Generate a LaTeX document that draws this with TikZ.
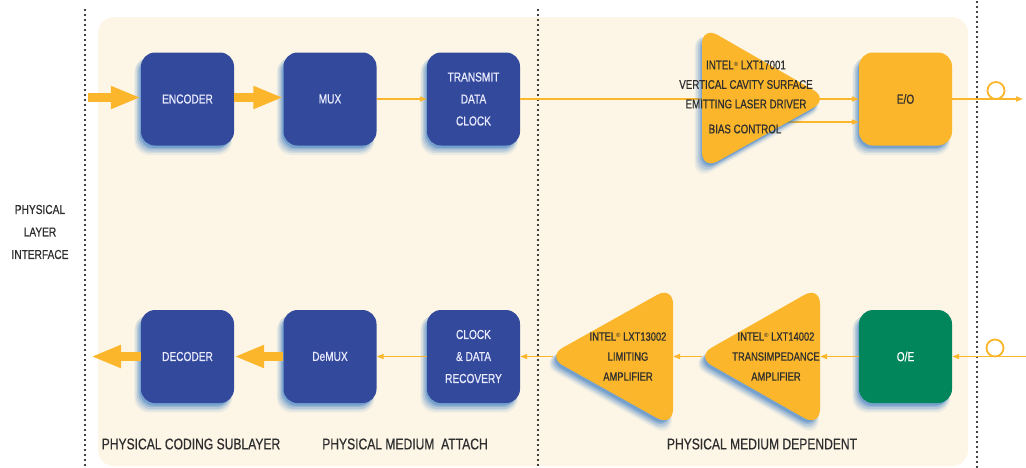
\documentclass[tikz,border=0pt]{standalone}
\usepackage{fontspec}
\setmainfont{Liberation Sans}[FakeStretch=0.78,FakeBold=0.6]
\newfontfamily\regfont{Liberation Sans}
\usetikzlibrary{arrows.meta,shadows}
\definecolor{boxblue}{HTML}{334A9C}
\definecolor{amber}{HTML}{FBB62B}
\definecolor{boxgreen}{HTML}{00865A}
\definecolor{cream}{HTML}{FDF6E6}
\definecolor{shblue}{HTML}{2A72C0}
\definecolor{txtgray}{HTML}{2E2E2E}
\newcommand{\regm}{{\regfont\fontsize{6}{6}\selectfont\raisebox{0.9ex}{®}}}
\tikzset{
  shadowed/.style={
    general shadow={fill=shblue,opacity=0.08,shadow xshift=-4pt,shadow yshift=-7pt,shadow scale=1.05},
    general shadow={fill=shblue,opacity=0.12,shadow xshift=-4pt,shadow yshift=-6pt,shadow scale=1.03},
    general shadow={fill=shblue,opacity=0.16,shadow xshift=-3.5pt,shadow yshift=-5.5pt,shadow scale=1.01},
    general shadow={fill=shblue,opacity=0.22,shadow xshift=-3pt,shadow yshift=-4.5pt,shadow scale=0.99},
    general shadow={fill=shblue,opacity=0.3,shadow xshift=-2pt,shadow yshift=-3.5pt,shadow scale=0.98}},
  blockbox/.style={shadowed,rounded corners=14pt,minimum width=93pt,minimum height=93pt,
    inner sep=0pt,text=white,align=center,font=\fontsize{13}{22}\selectfont},
  bluebox/.style={blockbox,fill=boxblue,text=white!92!blue},
  ambox/.style={blockbox,fill=amber,text=txtgray},
  grbox/.style={blockbox,fill=boxgreen},
  ampshape/.style={shadowed,fill=amber,rounded corners=18pt},
  amptext/.style={text=txtgray,align=center,font=\fontsize{12}{20}\selectfont,inner sep=0pt},
  lbl/.style={text=txtgray,font=\fontsize{15.5}{18}\selectfont,inner sep=0pt},
  thinarrow/.style={draw=amber,line width=1.6pt,-{Triangle[length=7pt,width=5pt]}},
  thickarrow/.style={draw=amber,line width=9pt,-{Triangle[length=30pt,width=21pt]}},
  dotline/.style={line width=2.3pt,dash pattern=on 0pt off 5pt,line cap=round,black},
}
\begin{document}
\begin{tikzpicture}[x=1pt,y=-1pt]
\useasboundingbox (0,0) rectangle (1026,467);
% panel
\fill[cream] (98,17) [rounded corners=16pt] rectangle (968,466);
% dotted boundaries
\draw[dotline] (85,10) -- (85,467);
\draw[dotline] (538,10) -- (538,467);
\draw[dotline] (977,2) -- (977,467);
% side label
\node[text=txtgray,align=center,font=\fontsize{13}{22.5}\selectfont,inner sep=0pt] (pli) at (40,232) {PHYSICAL\\LAYER\\INTERFACE};
% top row boxes
\node[bluebox] (enc) at (187.5,99) {ENCODER};
\node[bluebox] (mux) at (330,99) {MUX};
\node[bluebox] (tdc) at (473.5,99) {TRANSMIT\\DATA\\CLOCK};
\node[ambox] (eo) at (905.5,99) {E/O};
% bottom row boxes
\node[bluebox] (dec) at (187.5,356.5) {DECODER};
\node[bluebox] (demux) at (330,356.5) {DeMUX};
\node[bluebox] (cdr) at (473.5,356.5) {CLOCK\\\& DATA\\RECOVERY};
\node[grbox] (oe) at (905.5,356.5) {O/E};
% coordinates
\coordinate (inL) at (88,97.5);
\coordinate (outL) at (91,356.5);
\coordinate (ldtip) at (822,99);
\coordinate (ldbias) at (778,122);
\coordinate (tiatip) at (702,356.5);
\coordinate (tiaright) at (820,356.5);
\coordinate (latip) at (553,356.5);
\coordinate (laright) at (673,356.5);
\coordinate (fout) at (1023,99);
\coordinate (fin) at (1026,356.5);
% connectors top
\draw[thickarrow] (inL) -- (enc.west |- inL);
\draw[thickarrow] (enc.east |- inL) -- (mux.west |- inL);
\draw[thinarrow] (mux.east) -- (tdc.west);
\draw[thinarrow] (tdc.east) -- (eo.west);
\draw[thinarrow] (ldbias) -- (eo.west |- ldbias);
\draw[thinarrow] (eo.east) -- (fout);
\draw[amber,line width=1.8pt] (996,90.5) circle (8.5);
% laser driver
\path[ampshape] (702,26) -- (829,99) -- (702,170) -- cycle;
\node[amptext,font=\fontsize{12.5}{19.5}\selectfont] (ld) at (746,84.5) {INTEL\regm\ LXT17001\\VERTICAL CAVITY SURFACE\\EMITTING LASER DRIVER};
\node[amptext,font=\fontsize{12.5}{19.5}\selectfont] (bias) at (745,129) {BIAS CONTROL};
% connectors bottom
\draw[thinarrow] (fin) -- (oe.east);
\draw[amber,line width=1.8pt] (995,348) circle (8.5);
\draw[thinarrow] (oe.west) -- (tiaright);
\draw[thinarrow] (tiatip) -- (laright);
\draw[thinarrow] (latip) -- (cdr.east);
\draw[thinarrow] (cdr.west) -- (demux.east);
\draw[thickarrow] (demux.west) -- (dec.east);
\draw[thickarrow] (dec.west) -- (outL);
% amplifiers
\path[ampshape] (820,286) -- (696,356.5) -- (820,427) -- cycle;
\path[ampshape] (673,286) -- (547,356.5) -- (673,427) -- cycle;
\node[amptext] (tia) at (776,356.5) {INTEL\regm\ LXT14002\\TRANSIMPEDANCE\\AMPLIFIER};
\node[amptext] (la) at (628,356.5) {INTEL\regm\ LXT13002\\LIMITING\\AMPLIFIER};
% sublayer labels
\node[lbl] (pcs) at (191,444) {PHYSICAL CODING SUBLAYER};
\node[lbl] (pma) at (405,444) {PHYSICAL MEDIUM\ \ ATTACH};
\node[lbl] (pmd) at (762,444) {PHYSICAL MEDIUM DEPENDENT};
\end{tikzpicture}
\end{document}
